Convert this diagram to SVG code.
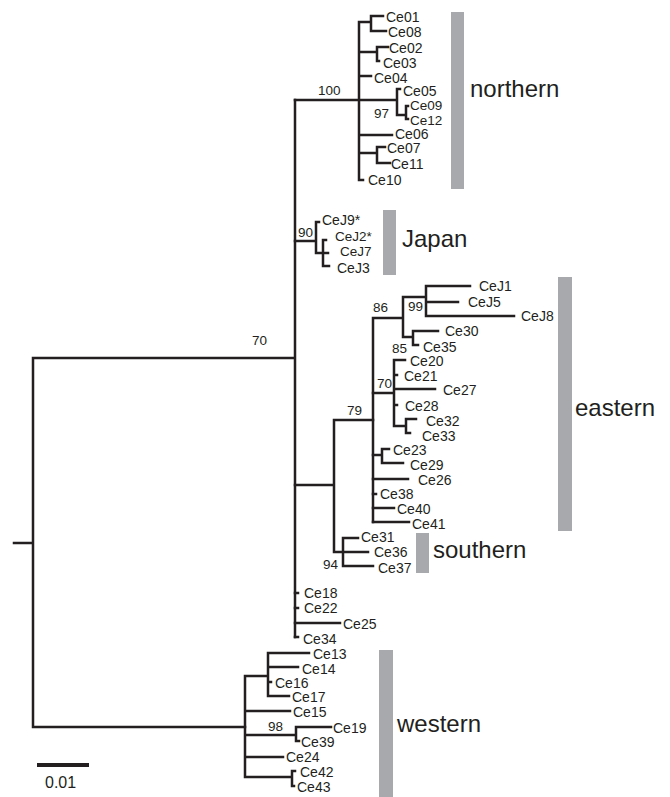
<svg xmlns="http://www.w3.org/2000/svg" width="670" height="797" viewBox="0 0 670 797">
<style>
.e{fill:none;stroke:#231f20;stroke-width:2.5;stroke-linecap:square}
.l{font-family:"Liberation Sans",Arial,sans-serif;font-size:14px;fill:#231f20}
.s{font-size:13.5px}
.n{font-family:"Liberation Sans",Arial,sans-serif;font-size:13.5px;fill:#231f20}
.g{font-family:"Liberation Sans",Arial,sans-serif;font-size:24px;fill:#231f20}
.b{fill:#a7a9ac}
</style>
<rect width="670" height="797" fill="#fff"/>
<g id="connectors">
<path class="e" d="M14,543H33M33,358V727M33,358H295M33,727H245M295,100V637"/>
<path class="e" d="M295,100H359M359,22V180M359,22H371M371,16V31M371,16H383M371,31H386M359,52H377M377,47V61M377,47H388M377,61H379M359,76H371M359,100H397M397,89V115M397,89H400M397,115H406M406,106V119M406,106H408M406,119H408M359,135H392M359,153H377M377,147V163M377,147H385M377,163H390M359,180H363"/>
<path class="e" d="M295,241H316M316,222V253M316,222H319M316,253H328M323,240V266M323,240H326M323,266H329"/>
<path class="e" d="M295,485H334M334,420V552M334,420H373M334,552H343M343,538V566M343,538H358M343,552H368M343,566H373"/>
<path class="e" d="M373,318V522M373,318H403M403,297V337M403,297H426M426,286V316M426,286H470M426,302H458M426,316H514M403,337H413M413,331V345M413,331H438M413,345H418"/>
<path class="e" d="M373,393H394M394,360V426M394,360H405M394,375H397M394,389H435M394,405H397M394,426H406M406,419V433M406,419H416M406,433H410"/>
<path class="e" d="M373,455H382M382,449V463M382,449H389M382,463H403M373,479H408M373,494H376M373,508H394M373,522H409"/>
<path class="e" d="M295,593H298M295,608H298M295,623H340M295,637H298"/>
<path class="e" d="M245,676V777M245,676H268M268,653V696M268,653H309M268,667H298M268,682H271M268,696H289M245,711H290M245,735H296M296,727V741M296,727H331M296,741H299M245,757H283M245,777H292M292,771V786M292,771H295M292,786H294"/>
</g>
<g id="scale"><path d="M37,765H89" stroke="#231f20" stroke-width="4"/><text class="l" x="45" y="788" style="font-size:16px">0.01</text></g>
<g id="support">
<text class="n" x="252" y="345">70</text>
<text class="n" x="318" y="95">100</text>
<text class="n" x="374" y="118">97</text>
<text class="n" x="298" y="237">90</text>
<text class="n" x="373" y="312">86</text>
<text class="n" x="408" y="311">99</text>
<text class="n" x="392" y="353">85</text>
<text class="n" x="377" y="388">70</text>
<text class="n" x="347" y="415">79</text>
<text class="n" x="323" y="569">94</text>
<text class="n" x="268" y="731">98</text>
</g>
<g id="northern"><rect class="b" x="451" y="12" width="13" height="177"/><text class="g" x="470" y="97">northern</text></g>
<g id="japan"><rect class="b" x="383" y="210" width="13" height="65"/><text class="g" x="402" y="247">Japan</text></g>
<g id="eastern"><rect class="b" x="558" y="277" width="14" height="254"/><text class="g" x="575" y="416">eastern</text></g>
<g id="southern"><rect class="b" x="416" y="533" width="13" height="40"/><text class="g" x="433" y="558">southern</text></g>
<g id="western"><rect class="b" x="379" y="650" width="14" height="147"/><text class="g" x="397" y="732">western</text></g>
<g id="Ce01"><text class="l" x="386" y="22">Ce01</text></g>
<g id="Ce08"><text class="l" x="388" y="37">Ce08</text></g>
<g id="Ce02"><text class="l" x="389" y="53">Ce02</text></g>
<g id="Ce03"><text class="l" x="383" y="68">Ce03</text></g>
<g id="Ce04"><text class="l" x="374" y="83">Ce04</text></g>
<g id="Ce05"><text class="l" x="403" y="96">Ce05</text></g>
<g id="Ce09"><text class="l s" x="410" y="110">Ce09</text></g>
<g id="Ce12"><text class="l s" x="410" y="125">Ce12</text></g>
<g id="Ce06"><text class="l" x="395" y="139">Ce06</text></g>
<g id="Ce07"><text class="l" x="387" y="153">Ce07</text></g>
<g id="Ce11"><text class="l" x="391" y="169">Ce11</text></g>
<g id="Ce10"><text class="l" x="368" y="185">Ce10</text></g>
<g id="CeJ9"><text class="l" x="322" y="225">CeJ9*</text></g>
<g id="CeJ2"><text class="l s" x="335" y="241">CeJ2*</text></g>
<g id="CeJ7"><text class="l s" x="340" y="256">CeJ7</text></g>
<g id="CeJ3"><text class="l" x="337" y="273">CeJ3</text></g>
<g id="CeJ1"><text class="l" x="479" y="291">CeJ1</text></g>
<g id="CeJ5"><text class="l" x="468" y="307">CeJ5</text></g>
<g id="CeJ8"><text class="l" x="521" y="321">CeJ8</text></g>
<g id="Ce30"><text class="l" x="445" y="336">Ce30</text></g>
<g id="Ce35"><text class="l" x="423" y="352">Ce35</text></g>
<g id="Ce20"><text class="l" x="410" y="366">Ce20</text></g>
<g id="Ce21"><text class="l" x="404" y="381">Ce21</text></g>
<g id="Ce27"><text class="l" x="443" y="395">Ce27</text></g>
<g id="Ce28"><text class="l" x="405" y="411">Ce28</text></g>
<g id="Ce32"><text class="l" x="426" y="426">Ce32</text></g>
<g id="Ce33"><text class="l" x="422" y="441">Ce33</text></g>
<g id="Ce23"><text class="l" x="393" y="455">Ce23</text></g>
<g id="Ce29"><text class="l" x="410" y="470">Ce29</text></g>
<g id="Ce26"><text class="l" x="418" y="485">Ce26</text></g>
<g id="Ce38"><text class="l" x="380" y="499">Ce38</text></g>
<g id="Ce40"><text class="l" x="397" y="514">Ce40</text></g>
<g id="Ce41"><text class="l" x="412" y="529">Ce41</text></g>
<g id="Ce31"><text class="l" x="361" y="542">Ce31</text></g>
<g id="Ce36"><text class="l" x="374" y="557">Ce36</text></g>
<g id="Ce37"><text class="l" x="378" y="573">Ce37</text></g>
<g id="Ce18"><text class="l" x="304" y="598">Ce18</text></g>
<g id="Ce22"><text class="l" x="304" y="613">Ce22</text></g>
<g id="Ce25"><text class="l" x="343" y="629">Ce25</text></g>
<g id="Ce34"><text class="l" x="303" y="644">Ce34</text></g>
<g id="Ce13"><text class="l" x="313" y="659">Ce13</text></g>
<g id="Ce14"><text class="l" x="302" y="674">Ce14</text></g>
<g id="Ce16"><text class="l" x="275" y="688">Ce16</text></g>
<g id="Ce17"><text class="l" x="292" y="702">Ce17</text></g>
<g id="Ce15"><text class="l" x="293" y="717">Ce15</text></g>
<g id="Ce19"><text class="l" x="333" y="733">Ce19</text></g>
<g id="Ce39"><text class="l" x="301" y="747">Ce39</text></g>
<g id="Ce24"><text class="l" x="286" y="762">Ce24</text></g>
<g id="Ce42"><text class="l" x="300" y="777">Ce42</text></g>
<g id="Ce43"><text class="l" x="297" y="792">Ce43</text></g>
</svg>
